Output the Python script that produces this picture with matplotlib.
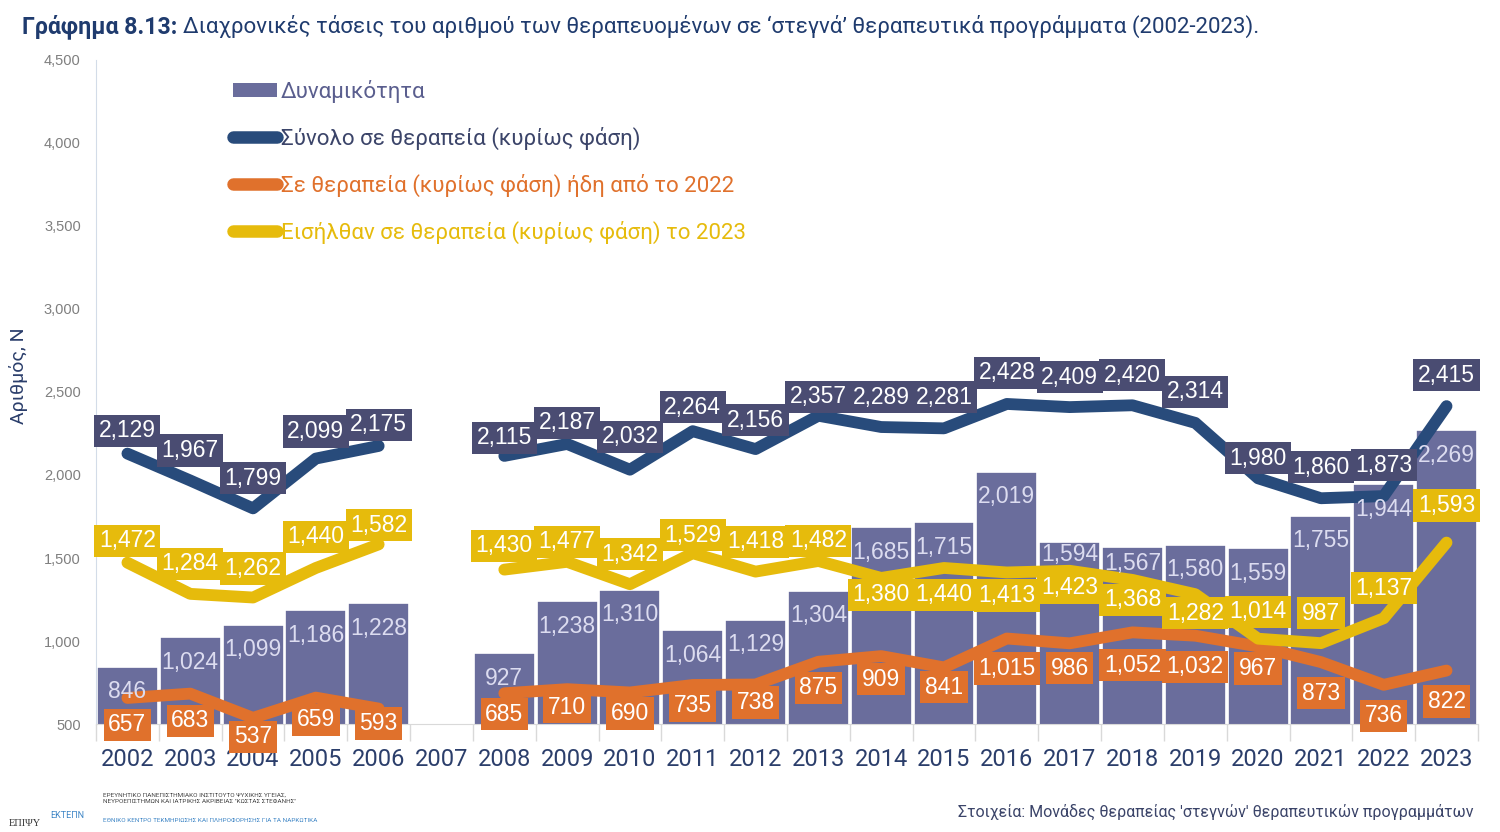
import numpy as np
import matplotlib
matplotlib.use("Agg")
import matplotlib.pyplot as plt
from matplotlib.patches import Patch
from matplotlib.lines import Line2D

# ---------------- data ----------------
years = ["2002", "2003", "2004", "2005", "2006", "2007", "2008", "2009", "2010", "2011", "2012",
         "2013", "2014", "2015", "2016", "2017", "2018", "2019", "2020", "2021", "2022", "2023"]
capacity = [846, 1024, 1099, 1186, 1228, None, 927, 1238, 1310, 1064, 1129,
            1304, 1685, 1715, 2019, 1594, 1567, 1580, 1559, 1755, 1944, 2269]
total = [2129, 1967, 1799, 2099, 2175, None, 2115, 2187, 2032, 2264, 2156,
         2357, 2289, 2281, 2428, 2409, 2420, 2314, 1980, 1860, 1873, 2415]
since2022 = [657, 683, 537, 659, 593, None, 685, 710, 690, 735, 738,
             875, 909, 841, 1015, 986, 1052, 1032, 967, 873, 736, 822]
entered2023 = [1472, 1284, 1262, 1440, 1582, None, 1430, 1477, 1342, 1529, 1418,
               1482, 1380, 1440, 1413, 1423, 1368, 1282, 1014, 987, 1137, 1593]

legend_labels = ["Δυναμικότητα", "Σύνολο σε θεραπεία (κυρίως φάση)",
                 "Σε θεραπεία (κυρίως φάση) ήδη από το 2022",
                 "Εισήλθαν σε θεραπεία (κυρίως φάση) το 2023"]
y_ticks = [500, 1000, 1500, 2000, 2500, 3000, 3500, 4000, 4500]

# label offsets in pixels (positive = up) -- placement only
off_bar = [-25, -25, -25, -25, -25, 0, -25, -25, -25, -25, -25, -25, -25, -25, -25, -12, -17, -25, -25, -25, -25, -25]
off_total = [23, 30, 30, 27, 21, 0, 18, 21, 33, 24, 29, 19, 30, 31, 31, 30, 30, 31, 20, 31, 31, 31]
off_since = [-27, -27, -19, -22, -15, 0, -21, -18, -21, -21, -18, -26, -23, -20, -30, -25, -33, -31, -22, -31, -31, -31]
off_enter = [22, 30, 29, 31, 19, 0, 24, 20, 30, 18, 30, 20, -17, -27, -23, -17, -20, -19, 27, 30, 30, 37]

# ---------------- style ----------------
C_BAR = "#6a6d9c"
C_BARTXT = "#dcdcf0"
C_TOTAL = "#284b7b"
C_TOTALBOX = "#4a4c72"
C_ORANGE = "#e0712c"
C_YELLOW = "#e6bb0c"
C_NAVYTXT = "#2b3e6b"

def arr(v):
    return np.array([np.nan if a is None else a for a in v], dtype=float)

x = np.arange(len(years))
fig = plt.figure(figsize=(15, 8.32), dpi=100)
ax = fig.add_axes([0.064, 0.1298, 0.9213, 0.7981])

cap = arr(capacity)
ax.bar(x, cap, width=0.97, color=C_BAR, edgecolor="white", linewidth=1.2, zorder=1)

LW = 8.5
for vals, col in [(total, C_TOTAL), (since2022, C_ORANGE), (entered2023, C_YELLOW)]:
    ax.plot(x, arr(vals), color=col, lw=LW, solid_capstyle="round",
            solid_joinstyle="round", zorder=3)

LBL_FONT = "Liberation Sans"
LBL_SIZE = 16.5

def fmt(v):
    return f"{v:,}"

# bar labels
for i, v in enumerate(capacity):
    if v is None:
        continue
    ax.annotate(fmt(v), (x[i], v), xytext=(0, off_bar[i]), textcoords="offset pixels",
                ha="center", va="center", color=C_BARTXT, fontsize=LBL_SIZE,
                family=LBL_FONT, zorder=4)

z = 10
for vals, offs, box in [(since2022, off_since, C_ORANGE),
                        (entered2023, off_enter, C_YELLOW),
                        (total, off_total, C_TOTALBOX)]:
    for i, v in enumerate(vals):
        if v is None:
            continue
        z += 1
        ax.annotate(fmt(v), (x[i], v), xytext=(0, offs[i]), textcoords="offset pixels",
                    ha="center", va="center", color="white", fontsize=LBL_SIZE,
                    family=LBL_FONT, zorder=z,
                    bbox=dict(boxstyle="square,pad=0.2", fc=box, ec="none"))

ax.set_xlim(-0.5, len(years) - 0.5)
ax.set_ylim(500, 4500)
ax.set_yticks(y_ticks)
ax.set_yticklabels([f"{t:,}" for t in y_ticks], color="#7f7f7f", fontsize=10.5, family="Liberation Sans")
ax.tick_params(axis="y", length=0, pad=11)
ax.set_xticks(x)
ax.set_xticklabels(years, color=C_NAVYTXT, fontsize=17, family="Roboto")
ax.set_xticks(np.arange(-0.5, len(years), 1.0), minor=True)
ax.tick_params(axis="x", which="major", length=0, pad=17)
ax.tick_params(axis="x", which="minor", length=12, color="#d9d9d9", width=1)
for s in ["top", "right"]:
    ax.spines[s].set_visible(False)
ax.spines["left"].set_color("#d3dce8")
ax.spines["bottom"].set_color("#d9d9d9")
ax.set_ylabel("Αριθμός, Ν", color=C_NAVYTXT, fontsize=14, family="Roboto")
ax.yaxis.set_label_coords(-0.049, 0.525)

# legend
handles = [Patch(facecolor=C_BAR, edgecolor="none"),
           Line2D([], [], color=C_TOTAL, lw=9, solid_capstyle="round"),
           Line2D([], [], color=C_ORANGE, lw=9, solid_capstyle="round"),
           Line2D([], [], color=C_YELLOW, lw=9, solid_capstyle="round")]
leg = ax.legend(handles, legend_labels, loc="upper left",
                bbox_to_anchor=(213 / 1500, 1 - 60 / 832), bbox_transform=fig.transFigure,
                frameon=False, prop={"family": "Roboto", "size": 16},
                handlelength=2.0, handleheight=0.6, handletextpad=0.15, labelspacing=1.07)
for t, c in zip(leg.get_texts(), ["#5a5e8e", "#3b4469", C_ORANGE, C_YELLOW]):
    t.set_color(c)

# title
fig.canvas.draw()
r = fig.canvas.get_renderer()
t1 = fig.text(22 / 1500, 1 - 33 / 832, "Γράφημα 8.13:", fontsize=16.7, fontweight="bold",
              color="#1f3b6e", family="Roboto", va="baseline")
bb = t1.get_window_extent(renderer=r)
fig.text((bb.x1 + 6) / 1500, 1 - 33 / 832,
         "Διαχρονικές τάσεις του αριθμού των θεραπευομένων σε ‘στεγνά’ θεραπευτικά προγράμματα (2002-2023).",
         fontsize=16, color="#1f3b6e", family="Roboto", va="baseline")

# footer
fig.text(1473 / 1500, 1 - 812 / 832,
         "Στοιχεία: Μονάδες θεραπείας 'στεγνών' θεραπευτικών προγραμμάτων",
         ha="right", va="center", fontsize=11.5, color="#3b4469", family="Roboto")
fig.text(9 / 1500, 1 - 824 / 832, "ΕΠΙΨΥ", fontsize=7.5, color="#333333", family="Liberation Serif", va="center")
fig.text(50 / 1500, 1 - 815 / 832, "ΕΚΤΕΠΝ", fontsize=6.5, color="#3f86c6", family="Roboto", va="center")
fig.text(103 / 1500, 1 - 798 / 832,
         "ΕΡΕΥΝΗΤΙΚΟ ΠΑΝΕΠΙΣΤΗΜΙΑΚΟ ΙΝΣΤΙΤΟΥΤΟ ΨΥΧΙΚΗΣ ΥΓΕΙΑΣ,\nΝΕΥΡΟΕΠΙΣΤΗΜΩΝ ΚΑΙ ΙΑΤΡΙΚΗΣ ΑΚΡΙΒΕΙΑΣ \"ΚΩΣΤΑΣ ΣΤΕΦΑΝΗΣ\"",
         fontsize=4.6, color="#444444", family="Roboto", va="center", linespacing=1.3)
fig.text(103 / 1500, 1 - 821 / 832, "ΕΘΝΙΚΟ ΚΕΝΤΡΟ ΤΕΚΜΗΡΙΩΣΗΣ ΚΑΙ ΠΛΗΡΟΦΟΡΗΣΗΣ ΓΙΑ ΤΑ ΝΑΡΚΩΤΙΚΑ",
         fontsize=4.6, color="#3f86c6", family="Roboto", va="center")

fig.savefig("out.png", dpi=100)
